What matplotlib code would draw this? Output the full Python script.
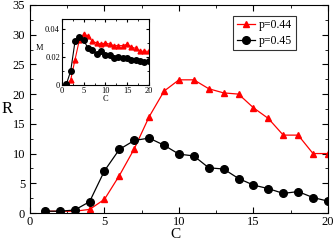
import matplotlib
matplotlib.use("Agg")
import matplotlib.pyplot as plt
from matplotlib.ticker import MultipleLocator

plt.rcParams["font.family"] = ["Liberation Serif", "DejaVu Serif"]

C = list(range(1, 21))
R_044 = [0.3, 0.3, 0.3, 0.6, 2.3, 6.3, 10.8, 16.2, 20.5, 22.4, 22.4, 20.9, 20.2, 20.0, 17.7, 15.9, 13.1, 13.1, 10.0, 10.0]
R_045 = [0.3, 0.3, 0.5, 1.9, 7.1, 10.7, 12.2, 12.6, 11.4, 9.9, 9.6, 7.6, 7.4, 5.8, 4.7, 4.1, 3.3, 3.6, 2.6, 2.0]

M_044 = [0.0, 0.0035, 0.018, 0.032, 0.036, 0.035, 0.031, 0.030, 0.029, 0.030, 0.029, 0.028, 0.028, 0.028, 0.029, 0.027, 0.026, 0.024, 0.024, 0.024]
M_045 = [0.0005, 0.0099, 0.031, 0.034, 0.032, 0.026, 0.025, 0.022, 0.024, 0.021, 0.021, 0.019, 0.020, 0.019, 0.019, 0.018, 0.018, 0.017, 0.016, 0.017]


def style_axes(ax, fs):
    ax.tick_params(which="both", direction="in", top=True, right=True, labelsize=fs)
    ax.tick_params(which="major", length=4)
    ax.tick_params(which="minor", length=2)


fig = plt.figure(figsize=(3.34, 2.4), dpi=100)
ax = fig.add_axes([0.0898, 0.1125, 0.892, 0.867])
ax.plot(C, R_044, "-^", color="red", ms=5, lw=0.9, label="p=0.44")
ax.plot(C, R_045, "-o", color="black", ms=5.5, lw=0.9, label="p=0.45")
ax.set_xlim(0, 20)
ax.set_ylim(0, 35)
ax.xaxis.set_major_locator(MultipleLocator(5))
ax.xaxis.set_minor_locator(MultipleLocator(2.5))
ax.yaxis.set_major_locator(MultipleLocator(5))
ax.yaxis.set_minor_locator(MultipleLocator(2.5))
style_axes(ax, 9)
ax.tick_params(axis="x", pad=2)
ax.set_xlabel("C", fontsize=11)
ax.set_ylabel("R", fontsize=12, rotation=0)
ax.xaxis.set_label_coords(0.487, -0.072, transform=ax.transAxes)
ax.yaxis.set_label_coords(-0.077, 0.5, transform=ax.transAxes)
ax.xaxis.label.set_va("top")
ax.yaxis.label.set_va("center")
ax.legend(loc="upper right", bbox_to_anchor=(0.9, 0.96), fontsize=8.5, frameon=True,
          fancybox=False, edgecolor="black", handlelength=1.6, handletextpad=0.3,
          borderpad=0.3, labelspacing=0.3, borderaxespad=0.2)
ax.get_legend().get_frame().set_linewidth(0.8)

ins = fig.add_axes([0.1856, 0.646, 0.26, 0.275])
ins.plot(C, M_044, "-^", color="red", ms=3.5, lw=0.8)
ins.plot(C, M_045, "-o", color="black", ms=4, lw=0.8)
ins.set_xlim(0, 20)
ins.set_ylim(0, 0.047)
ins.xaxis.set_major_locator(MultipleLocator(5))
ins.xaxis.set_minor_locator(MultipleLocator(2.5))
ins.set_yticks([0, 0.02, 0.04])
ins.set_yticklabels(["0", "0.02", "0.04"])
ins.yaxis.set_minor_locator(MultipleLocator(0.01))
style_axes(ins, 6)
ins.tick_params(which="major", length=2.5, pad=1.5)
ins.tick_params(which="minor", length=1.2)
ins.set_xlabel("C", fontsize=6, labelpad=0)
ins.set_ylabel("M", fontsize=6, rotation=0, labelpad=4)

fig.savefig("out.png", dpi=100)
